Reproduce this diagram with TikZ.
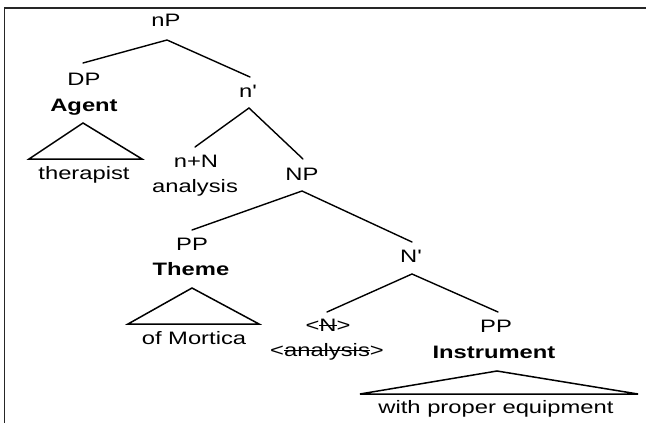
\documentclass[tikz,border=0pt]{standalone}
\usepackage{fontspec}
\setmainfont{Liberation Sans}
\usepackage{graphicx}
% labels are set in a widened sans face
\newcommand{\wide}[1]{\scalebox{1.32}[1]{#1}}
% struck-through text (trace of a moved head)
\newcommand{\struck}[1]{\setbox0\hbox{#1}\rlap{\rule[0.27em]{\wd0}{0.9pt}}\box0}
\begin{document}
\begin{tikzpicture}[x=1pt,y=-1pt,
  lbl/.style={anchor=base,inner sep=0pt,font=\fontsize{18}{20}\selectfont},
  blbl/.style={lbl,font=\fontsize{18}{20}\selectfont\bfseries},
  branch/.style={line width=1.4pt,line cap=round},
  roof/.style={line width=1.5pt,line join=miter}]
\useasboundingbox (0,0) rectangle (646,423);
% frame
\draw[line width=1.5pt,black!85] (4.5,423) -- (4.5,8) -- (646,8);

% labels
\node[lbl]  (nP)    at (166,27)  {\wide{nP}};
\node[lbl]  (DP)    at (84,85)   {\wide{DP}};
\node[blbl] (agent) at (84,111)  {\wide{Agent}};
\node[lbl]  (ther)  at (84,179)  {\wide{therapist}};
\node[lbl]  (nbar)  at (248,97)  {\wide{n\textquotesingle}};
\node[lbl]  (nN)    at (196,167) {\wide{n+N}};
\node[lbl]  (anal)  at (195,192) {\wide{analysis}};
\node[lbl]  (NP)    at (302,180) {\wide{NP}};
\node[lbl]  (PPt)   at (192,250) {\wide{PP}};
\node[blbl] (theme) at (191,275) {\wide{Theme}};
\node[lbl]  (mort)  at (194,344) {\wide{of Mortica}};
\node[lbl]  (Nbar)  at (411,262) {\wide{N\textquotesingle}};
\node[lbl]  (Ntr)   at (328,331) {\wide{<\struck{N}>}};
\node[lbl]  (antr)  at (327,356) {\wide{<\struck{analysis}>}};
\node[lbl]  (PPi)   at (496,332) {\wide{PP}};
\node[blbl] (instr) at (494,358) {\wide{Instrument}};
\node[lbl]  (equip) at (496,413) {\wide{with proper equipment}};

% branch ends
\coordinate (nP-b)   at (167,40);
\coordinate (DP-t)   at (83,63);
\coordinate (nbar-t) at (250,77);
\coordinate (nbar-b) at (249,108);
\coordinate (nN-t)   at (195,147);
\coordinate (NP-t)   at (303,159);
\coordinate (NP-b)   at (302,191);
\coordinate (PPt-t)  at (192,230);
\coordinate (Nbar-t) at (412,242);
\coordinate (Nbar-b) at (412,274);
\coordinate (Ntr-t)  at (327,312);
\coordinate (PPi-t)  at (498,312);

% roof corners
\coordinate (r1a) at (83,123);  \coordinate (r1l) at (29,159);  \coordinate (r1r) at (142,159);
\coordinate (r2a) at (192,288); \coordinate (r2l) at (128,324); \coordinate (r2r) at (259,324);
\coordinate (r3a) at (497,371); \coordinate (r3l) at (360,394); \coordinate (r3r) at (638,394);

% branches
\draw[branch] (DP-t) -- (nP-b) -- (nbar-t);
\draw[branch] (nN-t) -- (nbar-b) -- (NP-t);
\draw[branch] (PPt-t) -- (NP-b) -- (Nbar-t);
\draw[branch] (Ntr-t) -- (Nbar-b) -- (PPi-t);

% roofs
\draw[roof] (r1a) -- (r1l) -- (r1r) -- cycle;
\draw[roof] (r2a) -- (r2l) -- (r2r) -- cycle;
\draw[roof] (r3a) -- (r3l) -- (r3r) -- cycle;
\end{tikzpicture}
\end{document}
